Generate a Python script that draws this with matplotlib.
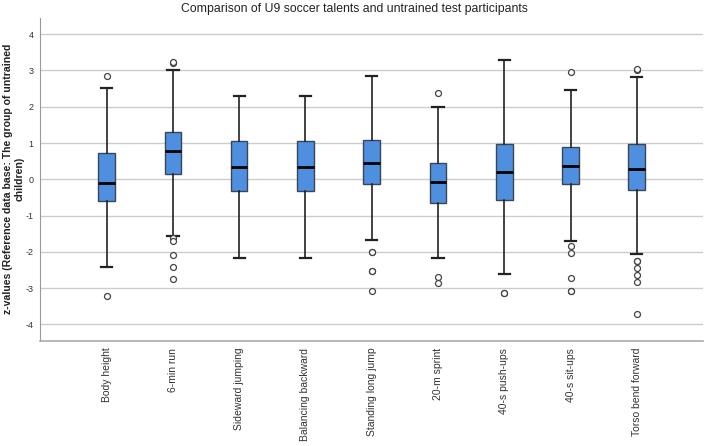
import matplotlib
matplotlib.use("Agg")
import matplotlib.pyplot as plt

plt.rcParams["font.family"] = ["Liberation Sans", "DejaVu Sans"]
plt.rcParams["axes.unicode_minus"] = False

# categories and box statistics (z-values)
categories = ["Body height", "6-min run", "Sideward jumping", "Balancing backward",
              "Standing long jump", "20-m sprint", "40-s push-ups", "40-s sit-ups",
              "Torso bend forward"]
whisker_low = [-2.41, -1.55, -2.18, -2.18, -1.68, -2.18, -2.62, -1.69, -2.06]
q1 = [-0.59, 0.155, -0.32, -0.32, -0.13, -0.64, -0.57, -0.14, -0.30]
median = [-0.10, 0.78, 0.34, 0.34, 0.45, -0.07, 0.20, 0.38, 0.29]
q3 = [0.72, 1.30, 1.05, 1.05, 1.09, 0.46, 0.975, 0.90, 0.975]
whisker_high = [2.52, 3.01, 2.30, 2.30, 2.85, 2.00, 3.29, 2.45, 2.83]
outliers = [
    [2.85, -3.22],
    [3.20, 3.23, -1.63, -1.70, -2.08, -2.41, -2.75],
    [],
    [],
    [-2.00, -2.01, -2.53, -2.54, -3.07],
    [2.39, -2.69, -2.85],
    [-3.13, -3.14],
    [2.96, -1.85, -2.04, -2.73, -3.07, -3.08],
    [3.02, 3.03, -2.25, -2.26, -2.45, -2.64, -2.84, -3.72],
]

stats = []
for i, name in enumerate(categories):
    stats.append({
        "label": name,
        "whislo": whisker_low[i],
        "q1": q1[i],
        "med": median[i],
        "q3": q3[i],
        "whishi": whisker_high[i],
        "fliers": outliers[i],
    })

fig = plt.figure(figsize=(7.08, 4.46), dpi=100)
ax = fig.add_axes([0.057, 0.236, 0.936, 0.724])

positions = list(range(1, len(categories) + 1))
ax.bxp(stats, positions=positions, widths=0.25, patch_artist=True,
       boxprops=dict(facecolor="#4f8fe0", edgecolor="#3b4654", linewidth=1.0),
       medianprops=dict(color="black", linewidth=2.0),
       whiskerprops=dict(color="#222222", linewidth=1.2),
       capprops=dict(color="#222222", linewidth=1.6),
       capwidths=0.17,
       flierprops=dict(marker="o", markersize=4.3, markerfacecolor="white",
                       markeredgecolor="#444444", markeredgewidth=0.9))

ax.set_xlim(0, 10)
ax.set_ylim(-4.45, 4.45)
ax.set_yticks([-4, -3, -2, -1, 0, 1, 2, 3, 4])
ax.set_xticks(positions)
ax.set_xticklabels(categories, rotation=90, fontsize=7.5, color="#333333")
ax.tick_params(axis="y", labelsize=6.5, length=0, pad=5, colors="#333333")
ax.tick_params(axis="x", length=0, pad=5)

ax.yaxis.grid(True, color="#cccccc", linewidth=1.0)
ax.set_axisbelow(True)
for side in ["top", "right"]:
    ax.spines[side].set_visible(False)
ax.spines["left"].set_color("#999999")
ax.spines["bottom"].set_color("#aaaaaa")
ax.spines["bottom"].set_linewidth(1.2)

ax.set_ylabel("z-values (Reference data base: The group of untrained\nchildren)",
              fontsize=7.6, fontweight="bold", color="#222222", linespacing=1.15)
ax.yaxis.set_label_coords(-0.024, 0.5)
fig.suptitle("Comparison of U9 soccer talents and untrained test participants",
             fontsize=8.8, y=0.993, color="#222222")

fig.savefig("out.png", dpi=100)
